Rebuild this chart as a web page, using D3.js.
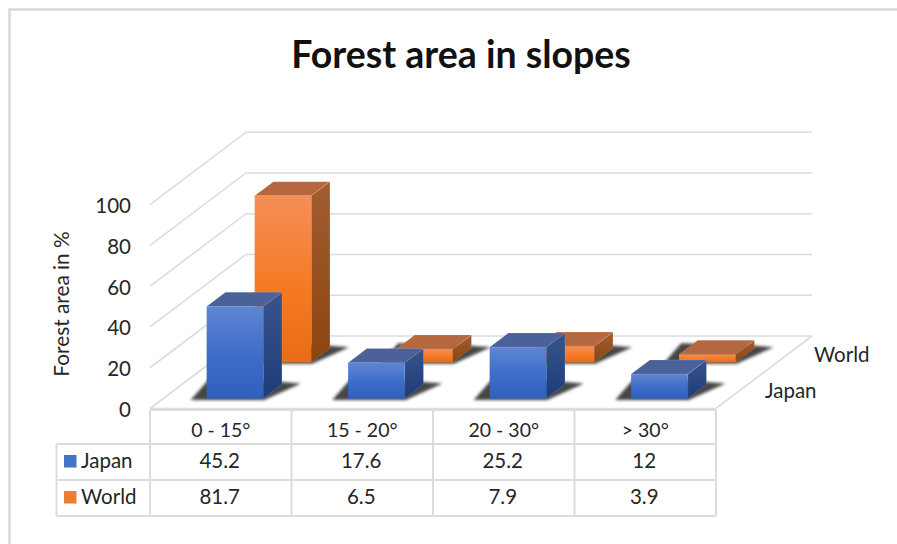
<!DOCTYPE html>
<html>
<head>
<meta charset="utf-8">
<script src="https://cdn.jsdelivr.net/npm/d3@7"></script>
<style>
html, body { margin: 0; padding: 0; background: #fff; overflow: hidden; }
text { font-family: Lato, "Open Sans", sans-serif; fill: #262626; }
</style>
</head>
<body>
<svg id="chart" width="897" height="544"></svg>
<script>
const categories = ["0 - 15°", "15 - 20°", "20 - 30°", "> 30°"];
const seriesNames = ["Japan", "World"];
const japanValues = [45.2, 17.6, 25.2, 12];
const worldValues = [81.7, 6.5, 7.9, 3.9];
const valueTicks = [0, 20, 40, 60, 80, 100];
const titleText = "Forest area in slopes";
const axisTitle = "Forest area in %";

const palette = {
  Japan: { legend: "#4472C4", faceTop: "#6086D2", faceMid: "#3B6CC8", faceBot: "#2F60BE",
           sideTop: "#37548C", sideBot: "#1E3C78", top: "#4A6299" },
  World: { legend: "#ED7D31", faceTop: "#F48F58", faceMid: "#F67A22", faceBot: "#E96D17",
           sideTop: "#A35C30", sideBot: "#8C440F", top: "#B5683F" }
};
const gridColor = "#dcdcdc";

const svg = d3.select("#chart");
const defs = svg.append("defs");

// Oblique projection: x along the category axis, depth into the chart, value upward.
const floorLeft = 150, floorRight = 716, floorFront = 408.5;
const depthDx = 96, depthDy = -72.5;
const x = d3.scaleBand().domain(categories).range([floorLeft, floorRight]);
const depth = d3.scaleBand().domain(seriesNames).range([0, 1]);
const y = d3.scaleLinear().domain([0, 100]).range([0, 203.8]);
const project = (px, d, v) => [px + depthDx * d, floorFront + depthDy * d - y(v)];
const pts = arr => arr.map(p => p.join(",")).join(" ");

// Frame around the whole chart
svg.append("path")
  .attr("d", "M897,9.5 H9.5 V544")
  .attr("fill", "none").attr("stroke", "#d9d9d9").attr("stroke-width", 2.5);

// Title
svg.append("text").text(titleText)
  .attr("x", 461).attr("y", 68)
  .attr("text-anchor", "middle")
  .style("font-size", "37.5px").style("font-weight", 700)
  .style("fill", "#111");

// Back wall, side wall and floor lines
const grid = svg.append("g").attr("fill", "none").attr("stroke", gridColor).attr("stroke-width", 1.6);
valueTicks.forEach(t => {
  grid.append("polyline").attr("points", pts([
    project(floorLeft, 0, t), project(floorLeft, 1, t), project(floorRight, 1, t)
  ]));
});
grid.append("polyline").attr("points", pts([
  project(floorLeft, 0, 0), project(floorRight, 0, 0), project(floorRight, 1, 0)
]));

// Value axis labels
svg.append("g").selectAll("text").data(valueTicks).join("text")
  .text(d => d)
  .attr("x", 131)
  .attr("y", d => project(floorLeft, 0, d)[1] + 8.5)
  .attr("text-anchor", "end")
  .style("font-size", "20.5px");

svg.append("text").text(axisTitle)
  .attr("transform", "translate(68.5,304) rotate(-90)")
  .attr("text-anchor", "middle")
  .style("font-size", "20.8px");

// Depth axis labels
svg.append("text").text("World").attr("x", 814).attr("y", 362).style("font-size", "20.5px");
svg.append("text").text("Japan").attr("x", 765).attr("y", 398).style("font-size", "20.5px");

// Soft contact shadows on the floor
const shadowBlur = defs.append("filter").attr("id", "shadowBlur")
  .attr("x", "-20%").attr("y", "-40%").attr("width", "140%").attr("height", "180%");
shadowBlur.append("feGaussianBlur").attr("stdDeviation", 1.6);

// Vertical shading of the front and side faces
function addGradient(id, stops) {
  const g = defs.append("linearGradient").attr("id", id)
    .attr("x1", 0).attr("y1", 0).attr("x2", 0).attr("y2", 1);
  stops.forEach(([o, c]) => g.append("stop").attr("offset", o).attr("stop-color", c));
}
seriesNames.forEach(s => {
  const c = palette[s];
  addGradient("face" + s, [[0, c.faceTop], [0.55, c.faceMid], [1, c.faceBot]]);
  addGradient("side" + s, [[0, c.sideTop], [1, c.sideBot]]);
});

const barShare = 0.4, barOffset = 0.307;
const depthInset = 0.275, depthShare = 0.39;
const rows = [
  { name: "World", values: worldValues },
  { name: "Japan", values: japanValues }
];

// World sits behind Japan, so it is painted first; within a row, left to right.
rows.forEach(row => {
  const d0 = depth(row.name) + depth.bandwidth() * depthInset;
  const d1 = d0 + depth.bandwidth() * depthShare;
  const layer = svg.append("g").attr("class", "series-" + row.name);
  row.values.forEach((v, i) => {
    const x0 = x(categories[i]) + x.bandwidth() * barOffset;
    const x1 = x0 + x.bandwidth() * barShare;
    const bar = layer.append("g");

    const front = project(x1, d0, 0);
    const back = project(x1, d1, 0);
    const frontLeft = project(x0, d0, 0);
    bar.append("polygon")
      .attr("points", pts([
        [frontLeft[0] - 16, front[1] + 1.5],
        [front[0] + 1, front[1] + 1.5],
        [back[0] + 19, back[1] - 1],
        [back[0] - 6, back[1] - 3],
        [frontLeft[0] + 2, front[1] - 19]
      ]))
      .attr("fill", "#333")
      .attr("opacity", 0.9)
      .attr("filter", "url(#shadowBlur)");

    bar.append("polygon").attr("fill", `url(#side${row.name})`)
      .attr("stroke", "#fff").attr("stroke-opacity", 0.25).attr("stroke-width", 0.5)
      .attr("points", pts([project(x1, d0, 0), project(x1, d1, 0), project(x1, d1, v), project(x1, d0, v)]));
    bar.append("polygon").attr("fill", palette[row.name].top)
      .attr("stroke", "#fff").attr("stroke-opacity", 0.25).attr("stroke-width", 0.5)
      .attr("points", pts([project(x0, d0, v), project(x1, d0, v), project(x1, d1, v), project(x0, d1, v)]));
    const f0 = project(x0, d0, v), f1 = project(x1, d0, 0);
    bar.append("rect").attr("fill", `url(#face${row.name})`)
      .attr("x", f0[0]).attr("y", f0[1])
      .attr("width", f1[0] - f0[0]).attr("height", f1[1] - f0[1]);
  });
});

// Data table under the floor
const tableLeft = 56.5;
const tableRows = [410, 444, 480, 516];
const table = svg.append("g").attr("fill", "none").attr("stroke", gridColor).attr("stroke-width", 2);
const columnEdges = [floorLeft, ...categories.map(c => x(c) + x.bandwidth())];
columnEdges.forEach(cx => {
  table.append("line").attr("x1", cx).attr("x2", cx).attr("y1", tableRows[0]).attr("y2", tableRows[3]);
});
table.append("line").attr("x1", tableLeft).attr("x2", tableLeft).attr("y1", tableRows[1]).attr("y2", tableRows[3]);
table.append("line").attr("x1", floorLeft).attr("x2", floorRight).attr("y1", tableRows[0]).attr("y2", tableRows[0]);
tableRows.slice(1).forEach(ry => {
  table.append("line").attr("x1", tableLeft).attr("x2", floorRight).attr("y1", ry).attr("y2", ry);
});

const cellText = (label, cx, cy, size) => svg.append("text").text(label)
  .attr("x", cx).attr("y", cy).attr("text-anchor", "middle").style("font-size", size);

categories.forEach((c, i) => {
  const cx = x(c) + x.bandwidth() / 2;
  cellText(c, cx, 437, "19.5px");
  cellText(japanValues[i], cx - 1, 468, "20.5px");
  cellText(worldValues[i], cx - 1, 504, "20.5px");
});

rows.slice().reverse().forEach((row, r) => {
  const cy = r === 0 ? 468 : 504;
  svg.append("rect").attr("x", 64).attr("y", cy - 13).attr("width", 12.5).attr("height", 12.5)
    .attr("fill", palette[row.name].legend);
  svg.append("text").text(row.name).attr("x", 81).attr("y", cy).style("font-size", "20.5px");
});
</script>
</body>
</html>
